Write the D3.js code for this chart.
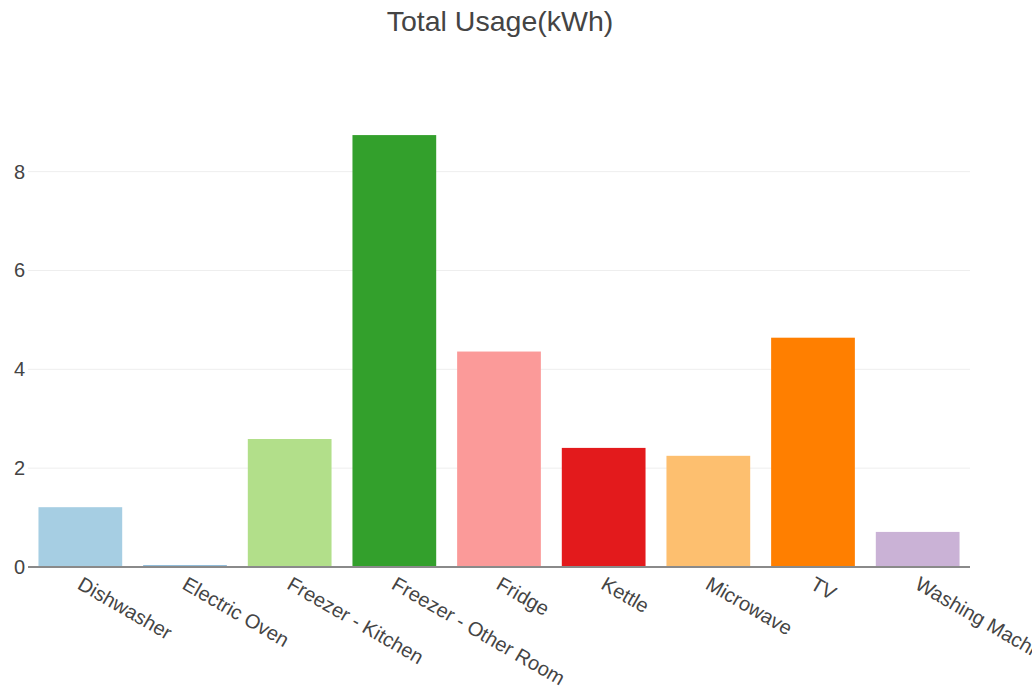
<!DOCTYPE html>
<html>
<head>
<meta charset="utf-8">
<script src="https://cdn.jsdelivr.net/npm/d3@7"></script>
<style>
  html, body { margin: 0; padding: 0; background: #fff; }
  svg { display: block; font-family: "Liberation Sans", Arial, sans-serif; }
</style>
</head>
<body>
<svg id="chart" width="1032" height="691"></svg>
<script>
// Appliance energy totals
const categories = ["Dishwasher", "Electric Oven", "Freezer - Kitchen", "Freezer - Other Room",
                    "Fridge", "Kettle", "Microwave", "TV", "Washing Machine"];
const usage = [1.21, 0.03, 2.59, 8.74, 4.36, 2.41, 2.25, 4.64, 0.71];
const barColors = ["#a6cee3", "#1f78b4", "#b2df8a", "#33a02c", "#fb9a99",
                   "#e31a1c", "#fdbf6f", "#ff7f00", "#cab2d6"];
const yTicks = [0, 2, 4, 6, 8];
const chartTitle = "Total Usage(kWh)";

const svg = d3.select("#chart");
const plot = { left: 28, right: 970, top: 100, bottom: 567 };
const fontFamily = "'Liberation Sans', Arial, sans-serif";

const x = d3.scaleBand()
  .domain(categories)
  .range([plot.left, plot.right])
  .paddingInner(0.2)
  .paddingOuter(0.1);

const y = d3.scaleLinear()
  .domain([0, 9.45])
  .range([plot.bottom, plot.top]);

// Horizontal gridlines
svg.append("g")
  .selectAll("line")
  .data(yTicks.filter(d => d !== 0))
  .join("line")
  .attr("x1", plot.left).attr("x2", plot.right)
  .attr("y1", d => y(d)).attr("y2", d => y(d))
  .attr("stroke", "#eeeeee").attr("stroke-width", 1);

// Y tick labels
const yAxis = d3.axisLeft(y).tickValues(yTicks).tickSize(0).tickPadding(3).tickFormat(d3.format("d"));
svg.append("g")
  .attr("transform", `translate(${plot.left},0)`)
  .call(yAxis)
  .call(g => g.select(".domain").remove())
  .call(g => g.selectAll("text").attr("font-size", 20).attr("fill", "#444")
    .attr("font-family", fontFamily));

// Bars
svg.append("g")
  .selectAll("rect")
  .data(categories.map((c, i) => ({ c, v: usage[i], col: barColors[i] })))
  .join("rect")
  .attr("x", d => x(d.c))
  .attr("width", x.bandwidth())
  .attr("y", d => y(d.v))
  .attr("height", d => y(0) - y(d.v))
  .attr("fill", d => d.col);

// Zero line
svg.append("line")
  .attr("x1", plot.left).attr("x2", plot.right)
  .attr("y1", y(0)).attr("y2", y(0))
  .attr("stroke", "#8a8a8a").attr("stroke-width", 2);

// X tick labels, rotated 30 degrees (the last one runs past the right edge)
const xAxis = d3.axisBottom(x).tickSize(0).tickPadding(0);
svg.append("g")
  .attr("transform", `translate(0,${y(0)})`)
  .call(xAxis)
  .call(g => g.select(".domain").remove())
  .call(g => g.selectAll("text")
    .attr("font-size", 20).attr("fill", "#444")
    .attr("font-family", fontFamily)
    .attr("text-anchor", "start")
    .attr("dy", null)
    .attr("y", 0)
    .attr("transform", "translate(-4,21) rotate(30)"));

// Title
svg.append("text")
  .attr("x", 500).attr("y", 31)
  .attr("text-anchor", "middle")
  .attr("font-size", 28.5)
  .attr("font-family", fontFamily)
  .attr("fill", "#444")
  .text(chartTitle);
</script>
</body>
</html>
